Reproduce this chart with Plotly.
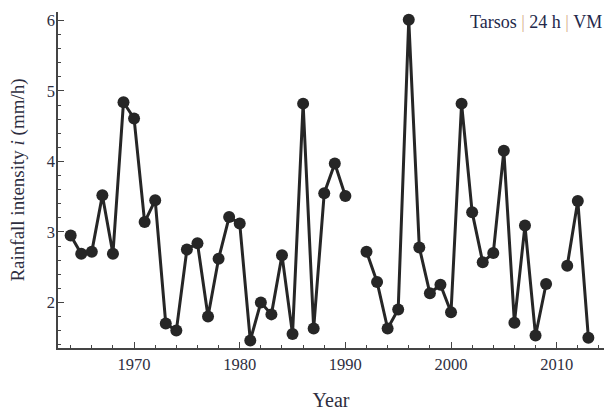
import plotly.graph_objects as go

# Annual rainfall intensity, Tarsos station, 24 h duration
years = list(range(1964, 2014))
intensity = [
    2.95, 2.69, 2.72, 3.52, 2.69, 4.84, 4.61, 3.14, 3.45, 1.70,  # 1964-1973
    1.60, 2.75, 2.84, 1.80, 2.62, 3.21, 3.12, 1.46, 2.00, 1.83,  # 1974-1983
    2.67, 1.55, 4.82, 1.63, 3.55, 3.97, 3.51, None, 2.72, 2.29,  # 1984-1993
    1.63, 1.90, 6.01, 2.78, 2.13, 2.25, 1.86, 4.82, 3.28, 2.57,  # 1994-2003
    2.70, 4.15, 1.71, 3.09, 1.53, 2.26, None, 2.52, 3.44, 1.50,  # 2004-2013
]

x_major = [1970, 1980, 1990, 2000, 2010]
y_major = [2, 3, 4, 5, 6]
label = "Tarsos | 24 h | VM"

SERIF = "Liberation Serif, Times New Roman, serif"
AXIS_COL = "#444444"
TEXT_COL = "#2e2e40"
MARK_COL = "#262626"

fig = go.Figure()
fig.add_trace(go.Scatter(
    x=years,
    y=intensity,
    mode="lines+markers",
    line=dict(color=MARK_COL, width=3),
    marker=dict(color=MARK_COL, size=12),
    connectgaps=False,
    showlegend=False,
))

axis_common = dict(
    showline=True, linecolor=AXIS_COL, linewidth=1.5,
    showgrid=False, zeroline=False, mirror=False, automargin=False,
    ticks="inside", ticklen=6, tickwidth=1, tickcolor=AXIS_COL,
    tickfont=dict(family=SERIF, size=16.5, color=TEXT_COL),
)

fig.update_xaxes(
    range=[1962.8, 2014.48],
    tickvals=x_major,
    minor=dict(dtick=2, tick0=1964, ticks="inside", ticklen=3.5,
               tickwidth=1, tickcolor=AXIS_COL),
    title=dict(text="Year", font=dict(family=SERIF, size=20, color=TEXT_COL),
               standoff=21),
    **axis_common,
)
fig.update_yaxes(
    range=[1.353, 6.12],
    tickvals=y_major,
    ticklabelstandoff=-2,
    minor=dict(dtick=0.2, tick0=2, ticks="inside", ticklen=3.5,
               tickwidth=1, tickcolor=AXIS_COL),
    title=dict(text="Rainfall intensity <i>i</i> (mm/h)",
               font=dict(family=SERIF, size=19, color=TEXT_COL),
               standoff=17),
    **axis_common,
)

sep = "<span style='color:#d8b08c'>|</span>"
fig.add_annotation(
    xref="paper", yref="paper", x=1.0, y=0.971,
    xanchor="right", yanchor="middle", showarrow=False,
    text=label.replace("|", sep),
    font=dict(family=SERIF, size=18, color="#23284a"),
)

fig.update_layout(
    width=606, height=411,
    margin=dict(l=58, r=2, t=12, b=63),
    paper_bgcolor="white", plot_bgcolor="white",
    hovermode=False,
)

# drop the default page margin so the figure fills the window exactly
fig.write_html(
    "out.html",
    config={"displayModeBar": False},
    post_script="document.body.style.margin='0';"
                "document.body.style.overflow='hidden';",
)
